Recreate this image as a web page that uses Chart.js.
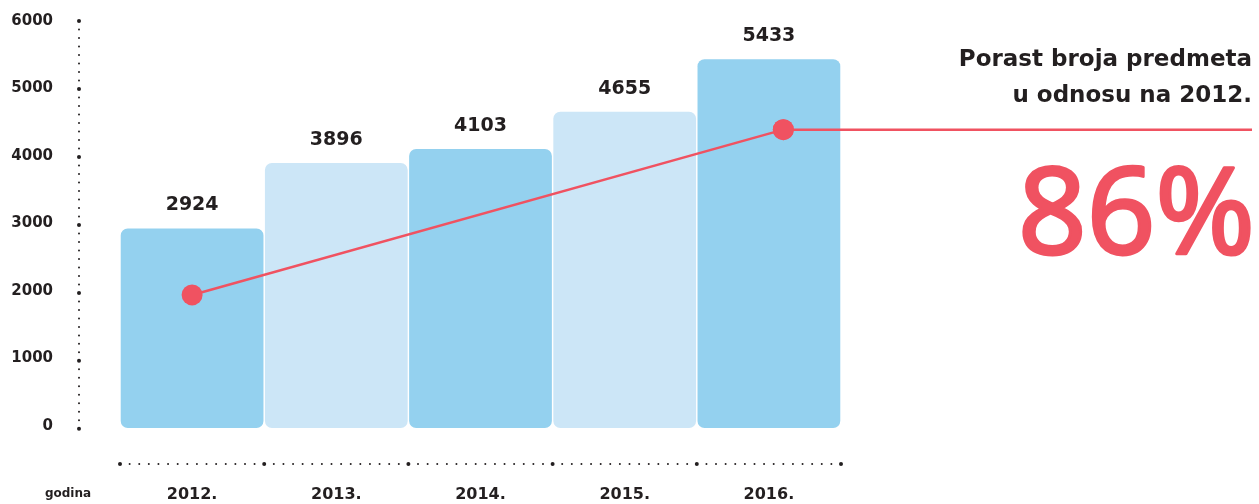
<!DOCTYPE html>
<html>
<head>
<meta charset="utf-8">
<script src="https://cdn.jsdelivr.net/npm/chart.js@4"></script>
<style>
    body { margin: 0; background: #ffffff; }
    canvas { display: block; }
</style>
</head>
<body>
<canvas id="chart" width="1259" height="504"></canvas>
<script>
// Data
const years = ['2012.', '2013.', '2014.', '2015.', '2016.'];
const caseCounts = [2924, 3896, 4103, 4655, 5433];
const yTickValues = [0, 1000, 2000, 3000, 4000, 5000, 6000];
// decorative growth line (x in category units)
const trendX = [0, 4.1];
const trendY = [1940, 4390];
const titleLines = ['Porast broja predmeta', 'u odnosu na 2012.'];
const growthText = '86%';
const axisName = 'godina';

const DARK_BLUE = '#94d1ef';
const LIGHT_BLUE = '#cce6f7';
const RED = '#f05261';
const TEXT = '#231f20';
const FONT = '"DejaVu Sans", sans-serif';
const Y_MIN = -32;

// Dotted axes, value labels and the right-hand text
const decorPlugin = {
    id: 'decor',
    afterDatasetsDraw(chart) {
        const ctx = chart.ctx;
        const yScale = chart.scales.y;
        const xScale = chart.scales.x;
        ctx.save();
        ctx.fillStyle = TEXT;

        // vertical dotted axis
        const axisX = 79;
        const yTop = yScale.getPixelForValue(6000);
        const yBottom = yScale.getPixelForValue(0) + 3;
        const yStep = (yBottom - yTop) / 48;
        for (let i = 0; i <= 48; i++) {
            ctx.beginPath();
            ctx.arc(axisX, yTop + i * yStep, i % 8 === 0 ? 2 : 1, 0, Math.PI * 2);
            ctx.fill();
        }

        // horizontal dotted axis
        const half = (xScale.getPixelForValue(1) - xScale.getPixelForValue(0)) / 2;
        const xStart = xScale.getPixelForValue(0) - half;
        const xEnd = xScale.getPixelForValue(years.length - 1) + half;
        const xSteps = years.length * 15;
        const xStep = (xEnd - xStart) / xSteps;
        const lineY = 464;
        for (let i = 0; i <= xSteps; i++) {
            ctx.beginPath();
            ctx.arc(xStart + i * xStep, lineY, i % 15 === 0 ? 2 : 1, 0, Math.PI * 2);
            ctx.fill();
        }

        // value labels above bars
        ctx.font = 'bold 19px ' + FONT;
        ctx.textAlign = 'center';
        ctx.textBaseline = 'middle';
        chart.getDatasetMeta(0).data.forEach((bar, i) => {
            ctx.fillText(String(caseCounts[i]), bar.x, bar.y - 23);
        });

        // axis name
        ctx.font = 'bold 12px ' + FONT;
        ctx.fillText(axisName, 68, 494);

        // horizontal extension of the trend line
        const lineMeta = chart.getDatasetMeta(1).data;
        const last = lineMeta[lineMeta.length - 1];
        ctx.strokeStyle = RED;
        ctx.lineWidth = 2.5;
        ctx.beginPath();
        ctx.moveTo(last.x, last.y);
        ctx.lineTo(chart.width - 7, last.y);
        ctx.stroke();
        ctx.fillStyle = RED;
        ctx.beginPath();
        ctx.arc(last.x, last.y, 10.5, 0, Math.PI * 2);
        ctx.fill();

        // title on the right
        ctx.fillStyle = TEXT;
        ctx.font = 'bold 23px ' + FONT;
        ctx.textAlign = 'right';
        ctx.fillText(titleLines[0], chart.width - 7, 60);
        ctx.fillText(titleLines[1], chart.width - 7, 96);

        ctx.fillStyle = RED;
        ctx.strokeStyle = RED;
        ctx.lineWidth = 3;
        ctx.lineJoin = 'round';
        ctx.font = '120px "Noto Sans", sans-serif';
        ctx.textBaseline = 'alphabetic';
        ctx.fillText(growthText, chart.width - 4, 254);
        ctx.strokeText(growthText, chart.width - 4, 254);
        ctx.restore();
    }
};

new Chart(document.getElementById('chart').getContext('2d'), {
    type: 'bar',
    data: {
        labels: years,
        datasets: [
            {
                type: 'bar',
                data: caseCounts,
                base: Y_MIN,
                backgroundColor: caseCounts.map((_, i) => i % 2 === 0 ? DARK_BLUE : LIGHT_BLUE),
                borderRadius: 7,
                borderSkipped: false,
                grouped: false,
                barPercentage: 0.99,
                categoryPercentage: 1,
                order: 2
            },
            {
                type: 'line',
                xAxisID: 'xl',
                data: trendX.map((x, i) => ({ x: x, y: trendY[i] })),
                borderColor: RED,
                backgroundColor: RED,
                borderWidth: 2.5,
                pointRadius: 10.5,
                pointHoverRadius: 10.5,
                pointBorderWidth: 0,
                fill: false,
                order: 1
            }
        ]
    },
    options: {
        responsive: false,
        animation: false,
        events: [],
        layout: { padding: { left: 0, right: 418, top: 21, bottom: 0 } },
        plugins: {
            legend: { display: false },
            title: { display: false },
            tooltip: { enabled: false }
        },
        scales: {
            x: {
                type: 'category',
                position: 'bottom',
                offset: true,
                grid: { display: false, drawTicks: false },
                border: { display: false },
                ticks: {
                    padding: 57,
                    color: TEXT,
                    font: { family: FONT, size: 16, weight: 'bold' }
                },
                afterFit(scale) {
                    scale.height = 76;
                    scale.paddingLeft = 0;
                    scale.paddingRight = 0;
                }
            },
            xl: {
                type: 'linear',
                position: 'bottom',
                display: false,
                offset: false,
                min: -0.5,
                max: years.length - 0.5
            },
            y: {
                type: 'linear',
                position: 'left',
                min: Y_MIN,
                max: 6000,
                grid: { display: false, drawTicks: false },
                border: { display: false },
                afterBuildTicks(scale) {
                    scale.ticks = yTickValues.map(v => ({ value: v }));
                },
                ticks: {
                    padding: 67,
                    color: TEXT,
                    font: { family: FONT, size: 15, weight: 'bold' },
                    callback: (value) => String(value)
                },
                afterFit(scale) {
                    scale.width = 120;
                    scale.paddingTop = 0;
                    scale.paddingBottom = 0;
                }
            }
        }
    },
    plugins: [decorPlugin]
});
</script>
</body>
</html>
